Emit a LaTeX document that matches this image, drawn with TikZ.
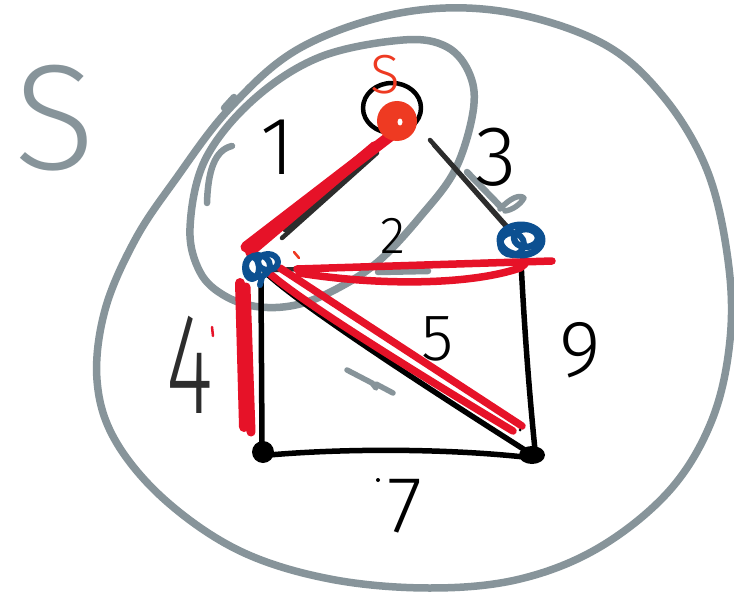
\documentclass[tikz,border=0pt]{standalone}
\usepackage{fontspec}
\newfontfamily\hand{Fira Sans Light}
\usetikzlibrary{calc}
\definecolor{gry}{RGB}{135,148,154}
\definecolor{rd}{RGB}{230,18,40}
\definecolor{srd}{RGB}{238,58,34}
\definecolor{blu}{RGB}{12,80,145}
\definecolor{dk}{RGB}{45,45,45}
\begin{document}
\begin{tikzpicture}[x=1pt,y=-1pt,line cap=round,line join=round,
  edge/.style={draw=black,line width=5.5pt},
  dedge/.style={draw=dk,line width=4.5pt},
  redm/.style={draw=rd,line width=7.5pt},
  greym/.style={draw=gry,line width=6.5pt},
  bluem/.style={draw=blu,line width=6pt},
  lbl/.style={inner sep=0pt}]
\useasboundingbox (0,0) rectangle (734,594);
\fill[white] (0,0) rectangle (734,594);

% outer set boundary
\draw[greym,line width=7.5pt] plot[smooth cycle,tension=0.6] coordinates {
 (500,11) (600,42) (662,95) (707,170) (728,260) (730,340) (712,420)
 (670,490) (600,547) (520,579) (430,588) (330,579) (240,551) (165,500)
 (115,440) (97,380) (105,310) (135,240) (175,180) (230,108) (300,48) (400,13)};
\draw[greym] (224,108) -- (234,97);

% inner ellipse
\draw[greym,line width=7.5pt] plot[smooth cycle,tension=0.6] coordinates {
 (380,260) (420,217) (455,170) (473,112) (470,75) (447,47) (403,40)
 (320,57) (253,100) (205,160) (190,228) (200,272) (225,296) (260,307)
 (300,304) (342,286)};
\draw[greym] (207,203) .. controls (208,170) and (215,150) .. (232,146);

% vertices
\coordinate (s) at (397,121);
\coordinate (a) at (262,267);
\coordinate (b) at (521,240);
\coordinate (c) at (263,452);
\coordinate (d) at (532,455);

% black edges
\draw[dedge] ($(s)+(-20,32)$) -- ($(a)+(20,-29)$);
\draw[dedge] ($(s)+(-30,39)$) -- ($(a)+(23,-37)$);
\draw[dedge] ($(s)+(33,19)$) -- ($(b)+(-8,-7)$);
\draw[dedge] ($(s)+(37,24)$) -- ($(b)+(-12,-10)$);
\draw[dedge] ($(a)+(11,3)$) -- ($(b)+(-4,21)$);
\draw[edge] ($(a)+(-1,16)$) -- ($(c)+(-1,-8)$);
\draw[edge] ($(a)+(3,5)$) .. controls (305,310) and (470,415) .. ($(d)+(-4,-3)$);
\draw[edge] ($(b)+(0,22)$) .. controls (525,340) and (530,400) .. ($(d)+(3,-5)$);
\draw[edge] ($(c)+(6,3)$) .. controls (350,448) and (450,449) .. ($(d)+(-8,2)$);

% grey annotation marks
\draw[greym] (467,172) -- (500,206);
\draw[greym,line width=5.5pt] (500,209) .. controls (510,198) and (520,194) .. (524,198)
  .. controls (520,205) and (512,210) .. (505,211);
\draw[greym] (378,272) -- (428,271);
\draw[greym,line width=5.5pt] (347,370) -- (372,383) -- (376,388) -- (376,384) -- (393,393);

% red highlighted tree edges
\draw[redm,line width=11pt] ($(a)+(-16,-20)$) -- ($(s)+(-4,13)$);
\draw[redm,line width=10pt] ($(a)+(-12,-15)$) -- ($(s)+(-22,25)$);
\draw[redm] ($(a)+(35,2)$) -- ($(b)+(31,21)$);
\draw[redm] ($(a)+(37,6)$) .. controls (380,286) and (470,285) .. ($(b)+(-1,28)$) -- ($(b)+(4,24)$);
\draw[redm] ($(a)+(18,1)$) -- ($(d)+(-10,-29)$);
\draw[redm] ($(a)+(6,5)$) .. controls (295,297) and (400,363) .. ($(d)+(-19,-24)$);
\draw[redm,line width=10pt] ($(a)+(-22,16)$) -- ($(c)+(-19,-25)$);
\draw[redm,line width=9pt] ($(a)+(-16,20)$) -- ($(c)+(-12,-20)$);
\draw[rd,line width=2.5pt] (212,327) -- (213,336);
\draw[srd,line width=2.5pt] (294,252) -- (299,258);

% source vertex
\draw[black,line width=4.5pt] (392,108) ellipse (29 and 25);
\node[circle,fill=srd,minimum size=40pt,inner sep=0pt] (snode) at (s) {};
\fill[white] ($(s)+(3,1)$) ellipse (2.5 and 3.5);

% blue vertices
\draw[bluem] ($(a)+(-4,-1)$) ellipse (12 and 11);
\draw[bluem] ($(a)+(6,-5)$) ellipse (10 and 8);
\draw[bluem] ($(a)+(-10,1)$) ellipse (7 and 11);
\draw[bluem] ($(a)+(0,10)$) -- ($(a)+(-2,18)$);
\draw[bluem,line width=7pt] (b) ellipse (21 and 15);
\draw[bluem,line width=6.5pt] ($(b)+(5,-2)$) ellipse (12 and 9);
\draw[bluem] ($(b)+(-9,4)$) ellipse (12 and 11);

% black vertices
\fill[black] (c) circle (11);
\fill[black] (d) ellipse (13 and 9);
\fill[black] (378,480) circle (2);
\fill[black] (520,430) circle (1.5);

% labels
\node[lbl,font={\hand\fontsize{55}{55}\selectfont},text=srd] (ls) at (385,75) {S};
\node[lbl,font={\hand\fontsize{150}{150}\selectfont},text=gry] (lS) at (55,118) {S};
\node[lbl,font={\hand\fontsize{82}{82}\selectfont}] (l1) at (277,147) {1};
\node[lbl,font={\hand\fontsize{52}{52}\selectfont}] (l2) at (393,236) {2};
\node[lbl,font={\hand\fontsize{85}{85}\selectfont}] (l3) at (496,157) {3};
\node[lbl,font={\hand\fontsize{90}{90}\selectfont},text=dk,yscale=1.6] (l4) at (190,365) {4};
\node[lbl,font={\hand\fontsize{66}{66}\selectfont}] (l5) at (438,339) {5};
\node[lbl,font={\hand\fontsize{80}{80}\selectfont}] (l9) at (580,350) {9};
\node[lbl,font={\hand\fontsize{80}{80}\selectfont}] (l7) at (405,506) {7};
\end{tikzpicture}
\end{document}
